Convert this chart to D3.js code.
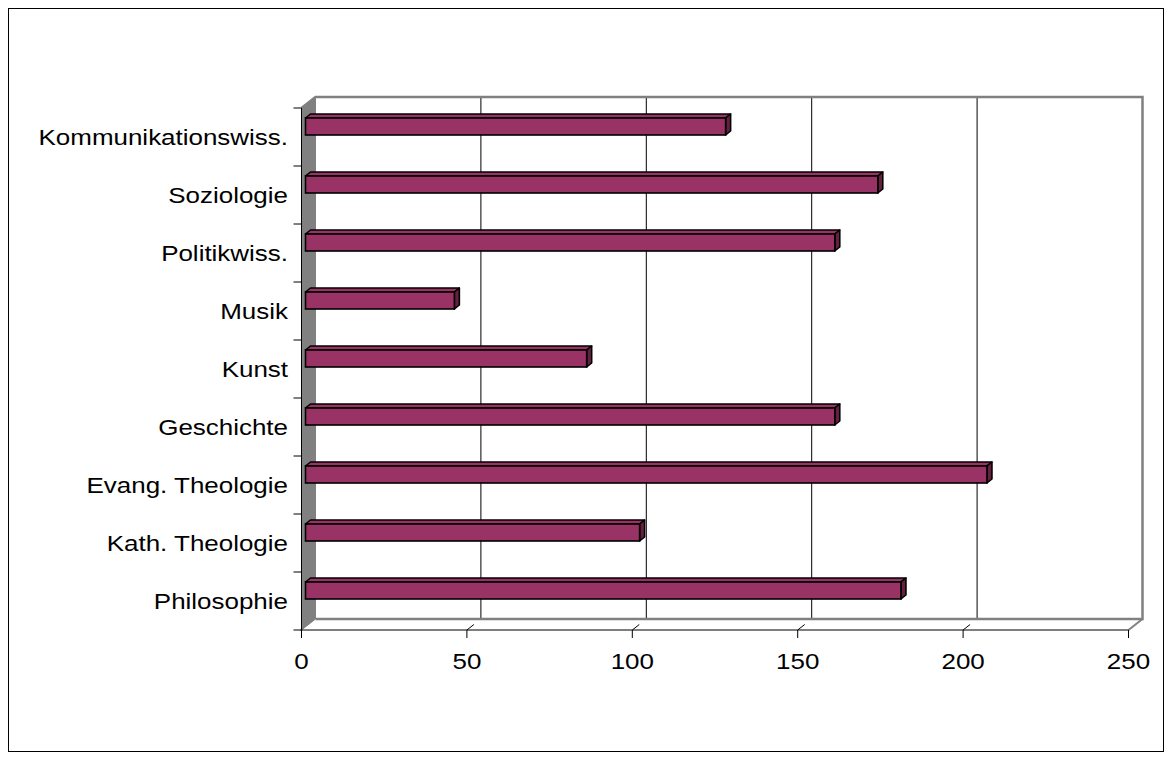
<!DOCTYPE html>
<html>
<head>
<meta charset="utf-8">
<script src="https://cdn.jsdelivr.net/npm/d3@7"></script>
<style>
  html, body { margin: 0; padding: 0; background: #fff; }
  svg { display: block; font-family: "Liberation Sans", Arial, sans-serif; }
</style>
</head>
<body>
<svg id="chart" width="1172" height="760"></svg>
<script>
// Faculties, listed bottom to top as they appear on the category axis
const categories = [
  "Philosophie",
  "Kath. Theologie",
  "Evang. Theologie",
  "Geschichte",
  "Kunst",
  "Musik",
  "Politikwiss.",
  "Soziologie",
  "Kommunikationswiss."
];
const values = [180, 101, 206, 160, 85, 45, 160, 173, 127];
const xTicks = [0, 50, 100, 150, 200, 250];

(function () {
const svg = d3.select("#chart");

// outer frame
svg.append("rect")
  .attr("x", 8.5).attr("y", 8.5)
  .attr("width", 1155).attr("height", 743)
  .attr("fill", "#fff").attr("stroke", "#000").attr("stroke-width", 1);

// front plane scales
const x = d3.scaleLinear().domain([0, 250]).range([301.5, 1128.5]);
const y = d3.scaleBand().domain(categories.slice().reverse()).range([108, 630]).padding(0);

// depth offset of the back wall
const DX = 14, DY = 11;
const plotTop = 108, plotBottom = 630;
const pts = arr => arr.map(p => p.join(",")).join(" ");

// side wall (left)
svg.append("polygon")
  .attr("points", pts([[x(0), plotTop], [x(0) + DX, plotTop - DY], [x(0) + DX, plotBottom - DY], [x(0), plotBottom]]))
  .attr("fill", "#808080").attr("stroke", "#808080").attr("stroke-width", 1);

// gridlines on the back wall and across the floor
xTicks.filter(t => t > 0 && t < 250).forEach(t => {
  svg.append("line")
    .attr("x1", x(t) + DX).attr("x2", x(t) + DX)
    .attr("y1", plotTop - DY).attr("y2", plotBottom - DY)
    .attr("stroke", "#000").attr("stroke-width", 1);
  svg.append("line")
    .attr("x1", x(t)).attr("y1", plotBottom)
    .attr("x2", x(t) + DX * 0.5).attr("y2", plotBottom - DY * 0.5)
    .attr("stroke", "#000").attr("stroke-width", 1);
});

// back wall border (top, right) and floor back/right edges
const wallStroke = "#808080";
svg.append("path")
  .attr("d", `M${x(0)},${plotTop} L${x(0) + DX},${plotTop - DY} L${x(250) + DX},${plotTop - DY} L${x(250) + DX},${plotBottom - DY} L${x(0) + DX},${plotBottom - DY}`)
  .attr("fill", "none").attr("stroke", wallStroke).attr("stroke-width", 2.5);
svg.append("line")
  .attr("x1", x(250)).attr("y1", plotBottom)
  .attr("x2", x(250) + DX).attr("y2", plotBottom - DY)
  .attr("stroke", wallStroke).attr("stroke-width", 2);

// axis lines
svg.append("line")
  .attr("x1", x(0)).attr("x2", x(0)).attr("y1", plotTop).attr("y2", plotBottom)
  .attr("stroke", "#000").attr("stroke-width", 1);
svg.append("line")
  .attr("x1", x(0) - 1).attr("x2", x(250)).attr("y1", plotBottom).attr("y2", plotBottom)
  .attr("stroke", "#000").attr("stroke-width", 1.2);

// category axis ticks at band boundaries
const boundaries = categories.map(c => y(c)).concat([plotBottom]);
boundaries.forEach(b => {
  svg.append("line")
    .attr("x1", x(0) - 8).attr("x2", x(0)).attr("y1", b).attr("y2", b)
    .attr("stroke", "#000").attr("stroke-width", 1);
});

// value axis ticks
xTicks.forEach(t => {
  svg.append("line")
    .attr("x1", x(t)).attr("x2", x(t)).attr("y1", plotBottom).attr("y2", plotBottom + 8)
    .attr("stroke", "#000").attr("stroke-width", 1);
});

// labels use a slightly widened face
const SX = 1.18, FS = 22;

// category labels
svg.append("g").selectAll("text").data(categories).join("text")
  .attr("transform", d => `translate(288,${y(d) + y.bandwidth() / 2}) scale(${SX},1)`)
  .attr("dy", "0.35em")
  .attr("text-anchor", "end")
  .attr("font-size", FS)
  .attr("fill", "#000")
  .text(d => d);

// value labels
svg.append("g").selectAll("text").data(xTicks).join("text")
  .attr("transform", d => `translate(${x(d)},661) scale(${SX},1)`)
  .attr("dy", "0.35em")
  .attr("text-anchor", "middle")
  .attr("font-size", FS)
  .attr("fill", "#000")
  .text(d => d);

// 3D bars
const bdx = 5, bdy = 4, barOff = 10, barH = 17, barX0 = 4;
const barFill = "#993366", barTopFill = "#993366", barEnd = "#66203f";
const bars = svg.append("g");
categories.forEach((c, i) => {
  const v = values[i];
  const x0 = x(0) + barX0, x1 = x(v) + barX0;
  const y0 = y(c) + barOff, y1 = y0 + barH;
  const g = bars.append("g");
  g.append("polygon")
    .attr("points", pts([[x0, y0], [x0 + bdx, y0 - bdy], [x1 + bdx, y0 - bdy], [x1, y0]]))
    .attr("fill", barTopFill).attr("stroke", "#000").attr("stroke-width", 1.6).attr("stroke-linejoin", "round");
  g.append("polygon")
    .attr("points", pts([[x1, y0], [x1 + bdx, y0 - bdy], [x1 + bdx, y1 - bdy], [x1, y1]]))
    .attr("fill", barEnd).attr("stroke", "#000").attr("stroke-width", 1.6).attr("stroke-linejoin", "round");
  g.append("rect")
    .attr("x", x0).attr("y", y0)
    .attr("width", x1 - x0).attr("height", barH)
    .attr("fill", barFill).attr("stroke", "#000").attr("stroke-width", 1.6);
});
})();
</script>
</body>
</html>
